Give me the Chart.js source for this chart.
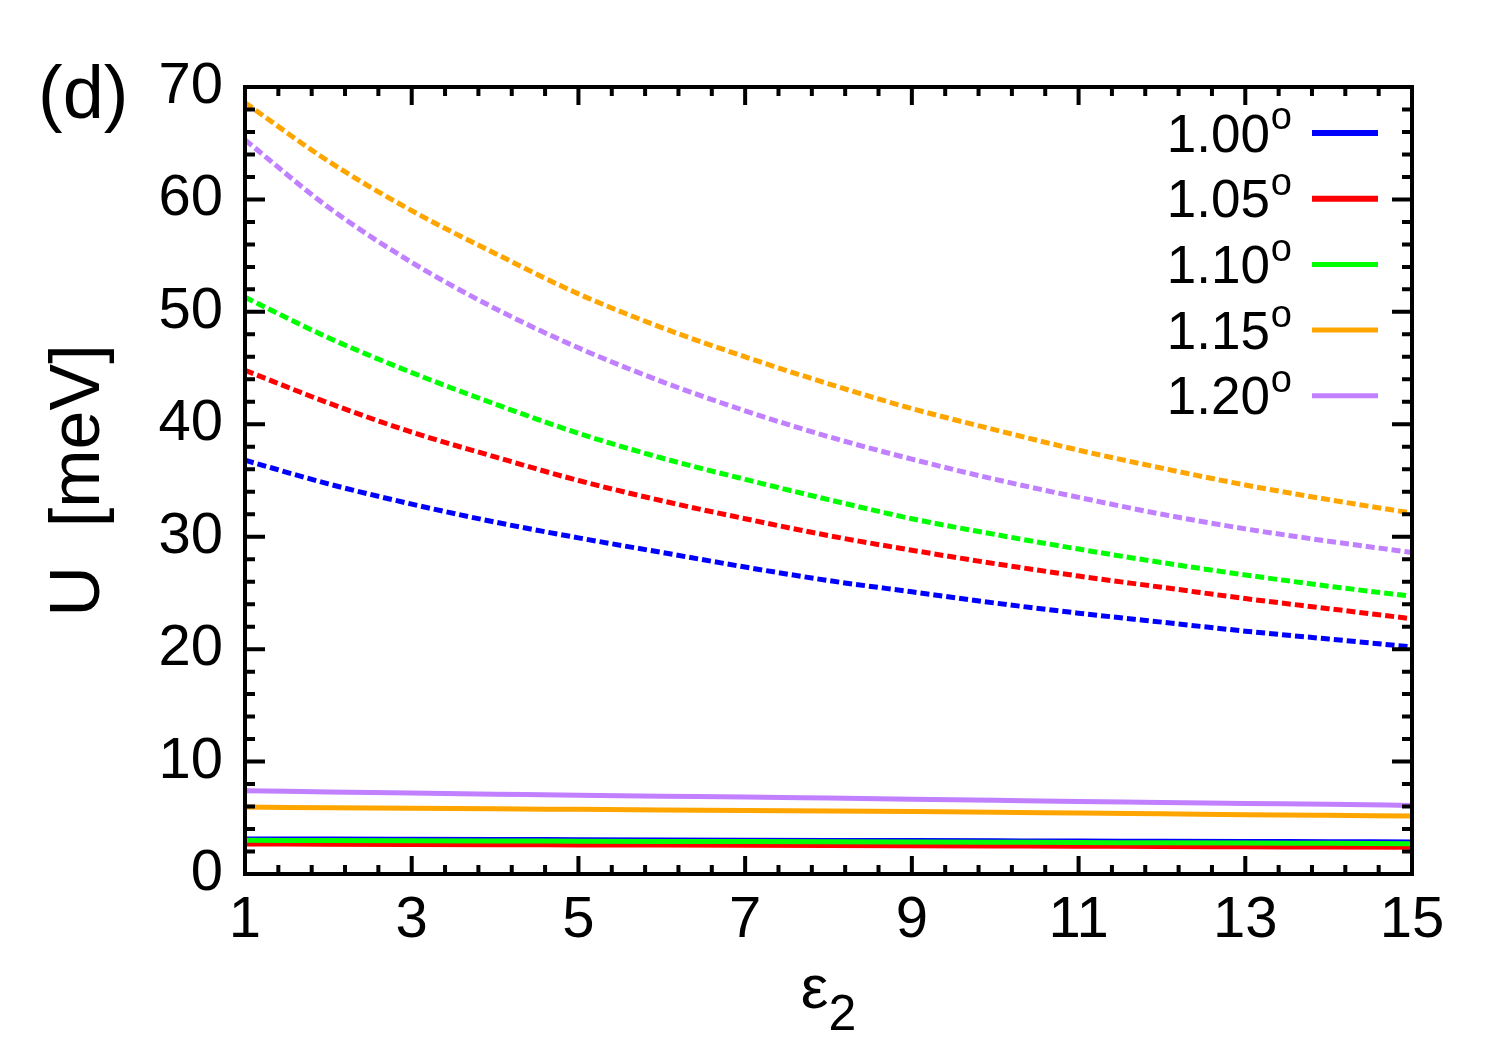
<!DOCTYPE html>
<html>
<head>
<meta charset="utf-8">
<script src="https://cdn.jsdelivr.net/npm/chart.js@4.4.1/dist/chart.umd.min.js"></script>
<style>
  html, body { margin: 0; padding: 0; background: #fff; }
  #wrap { width: 1500px; height: 1050px; }
</style>
</head>
<body>
<div id="wrap"><canvas id="chart" width="1500" height="1050"></canvas></div>
<script>
// epsilon_2 sample points
const EPS = [1, 2, 3, 4, 5, 6, 7, 8, 9, 10, 11, 12, 13, 14, 15];

const ANGLES = ['1.00', '1.05', '1.10', '1.15', '1.20'];
const COLORS = ['#0000ff', '#ff0000', '#00ff00', '#ffa500', '#c080ff'];

// dashed curves (upper group)
const U100_dashed = [36.8, 34.7, 32.9, 31.3, 29.9, 28.6, 27.3, 26.1, 25.1, 24.1, 23.2, 22.4, 21.6, 20.9, 20.2];
const U105_dashed = [44.8, 41.9, 39.3, 37.1, 35.0, 33.2, 31.6, 30.1, 28.8, 27.6, 26.5, 25.5, 24.5, 23.6, 22.7];
const U110_dashed = [51.3, 47.7, 44.6, 41.8, 39.2, 37.0, 35.1, 33.3, 31.6, 30.2, 28.9, 27.7, 26.6, 25.6, 24.7];
const U115_dashed = [68.6, 63.4, 59.0, 55.2, 51.6, 48.6, 46.0, 43.6, 41.4, 39.5, 37.7, 36.1, 34.6, 33.3, 32.1];
const U120_dashed = [65.3, 59.3, 54.4, 50.3, 46.8, 43.8, 41.2, 38.9, 36.9, 35.1, 33.5, 32.0, 30.7, 29.6, 28.6];

// solid curves (lower group)
const U100_solid = [3.12, 3.11, 3.09, 3.07, 3.05, 3.03, 3.01, 2.99, 2.97, 2.95, 2.93, 2.91, 2.89, 2.87, 2.85];
const U105_solid = [2.67, 2.65, 2.63, 2.61, 2.59, 2.57, 2.55, 2.53, 2.51, 2.49, 2.47, 2.45, 2.42, 2.40, 2.37];
const U110_solid = [3.00, 2.98, 2.96, 2.94, 2.92, 2.90, 2.88, 2.86, 2.84, 2.82, 2.80, 2.78, 2.76, 2.73, 2.70];
const U115_solid = [5.95, 5.90, 5.85, 5.80, 5.75, 5.70, 5.65, 5.60, 5.55, 5.50, 5.42, 5.35, 5.28, 5.22, 5.16];
const U120_solid = [7.40, 7.30, 7.20, 7.10, 7.00, 6.92, 6.85, 6.75, 6.65, 6.55, 6.45, 6.37, 6.28, 6.20, 6.10];

const X_TICKS = [1, 3, 5, 7, 9, 11, 13, 15];
const Y_TICKS = [0, 10, 20, 30, 40, 50, 60, 70];

const FONT = '"Liberation Sans", Arial, Helvetica, sans-serif';

const series = [
  [U100_dashed, U100_solid],
  [U105_dashed, U105_solid],
  [U110_dashed, U110_solid],
  [U115_dashed, U115_solid],
  [U120_dashed, U120_solid],
];

const datasets = [];
series.forEach(([dashed, solid], i) => {
  datasets.push({
    label: ANGLES[i] + ' dashed',
    data: EPS.map((x, k) => ({ x, y: dashed[k] })),
    borderColor: COLORS[i],
    borderWidth: 5,
    borderDash: [9, 4],
    borderCapStyle: 'butt',
  });
  datasets.push({
    label: ANGLES[i],
    data: EPS.map((x, k) => ({ x, y: solid[k] })),
    borderColor: COLORS[i],
    borderWidth: 5,
  });
});
// later series drawn on top (gnuplot style)
datasets.forEach((d, i) => {
  d.order = datasets.length - i;
  d.pointRadius = 0;
  d.fill = false;
  d.cubicInterpolationMode = 'monotone';
});

const framePlugin = {
  id: 'frame',
  afterDatasetsDraw(chart) {
    const { ctx, chartArea: a, scales: { x, y } } = chart;
    ctx.save();
    ctx.strokeStyle = '#000';
    ctx.lineWidth = 4;
    ctx.lineCap = 'butt';

    // inward ticks on all four sides
    ctx.beginPath();
    for (let i = 0; i <= 35; i++) {
      const v = 1 + 0.4 * i;
      const px = x.getPixelForValue(v);
      const len = i % 5 === 0 ? 18 : 9;
      ctx.moveTo(px, a.bottom); ctx.lineTo(px, a.bottom - len);
      ctx.moveTo(px, a.top); ctx.lineTo(px, a.top + len);
    }
    for (let v = 0; v <= 70; v += 2) {
      const py = y.getPixelForValue(v);
      const len = v % 10 === 0 ? 20 : 10;
      ctx.moveTo(a.left, py); ctx.lineTo(a.left + len, py);
      ctx.moveTo(a.right, py); ctx.lineTo(a.right - len, py);
    }
    ctx.stroke();
    ctx.strokeRect(a.left, a.top, a.right - a.left, a.bottom - a.top);

    // legend
    ctx.textBaseline = 'middle';
    ANGLES.forEach((name, i) => {
      const ly = 133 + i * 65.7;
      ctx.fillStyle = '#000';
      ctx.font = '38px ' + FONT;
      ctx.textAlign = 'right';
      ctx.fillText('o', 1292, ly - 14);
      const ow = ctx.measureText('o').width;
      ctx.font = '53px ' + FONT;
      ctx.fillText(name, 1292 - ow - 1, ly + 4);
      ctx.strokeStyle = COLORS[i];
      ctx.lineWidth = i < 2 ? 6 : 5;
      ctx.beginPath();
      ctx.moveTo(1312, ly); ctx.lineTo(1378, ly);
      ctx.stroke();
    });

    // panel label
    ctx.fillStyle = '#000';
    ctx.textAlign = 'left';
    ctx.font = '74px ' + FONT;
    ctx.fillText('(d)', 38, 98);

    // y title
    ctx.save();
    ctx.translate(80, (a.top + a.bottom) / 2);
    ctx.rotate(-Math.PI / 2);
    ctx.textAlign = 'center';
    ctx.font = '70px ' + FONT;
    ctx.fillText('U  [meV]', 0, 0);
    ctx.restore();

    // x title: epsilon with subscript 2
    ctx.font = '62px ' + FONT;
    const ew = ctx.measureText('\u03b5').width;
    ctx.font = '50px ' + FONT;
    const sw = ctx.measureText('2').width;
    const cx = (a.left + a.right) / 2;
    const x0 = cx - (ew + sw) / 2;
    ctx.textBaseline = 'alphabetic';
    ctx.textAlign = 'left';
    ctx.font = '62px ' + FONT;
    ctx.fillText('\u03b5', x0, 1008);
    ctx.font = '50px ' + FONT;
    ctx.fillText('2', x0 + ew, 1030);
    ctx.restore();
  }
};

new Chart(document.getElementById('chart'), {
  type: 'line',
  data: { datasets },
  options: {
    responsive: false,
    animation: false,
    devicePixelRatio: 1,
    layout: { padding: { top: 87, right: 88, left: 0, bottom: 0 } },
    plugins: { legend: { display: false }, tooltip: { enabled: false } },
    scales: {
      x: {
        type: 'linear', min: 1, max: 15,
        afterBuildTicks: s => { s.ticks = X_TICKS.map(value => ({ value })); },
        afterFit: s => { s.height = 176; },
        grid: { display: false, drawTicks: false },
        border: { display: false },
        ticks: { color: '#000', padding: 12, maxRotation: 0, autoSkip: false, font: { family: FONT, size: 58 } },
      },
      y: {
        type: 'linear', min: 0, max: 70,
        afterBuildTicks: s => { s.ticks = Y_TICKS.map(value => ({ value })); },
        afterFit: s => { s.width = 245; },
        grid: { display: false, drawTicks: false },
        border: { display: false },
        ticks: { color: '#000', padding: 22, font: { family: FONT, size: 58 } },
      },
    },
  },
  plugins: [framePlugin],
});
</script>
</body>
</html>
